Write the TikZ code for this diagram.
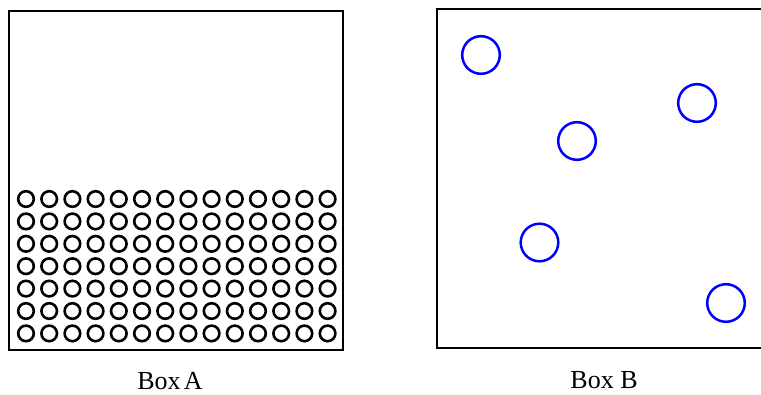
\documentclass[tikz,border=0pt]{standalone}
\usepackage{fontspec}
\setmainfont{Liberation Serif}
\begin{document}
\begin{tikzpicture}[x=1pt,y=-1pt,
  frame/.style={line width=2pt, black},
  ball/.style={line width=2.6pt, black},
  gas/.style={line width=2.5pt, blue},
  caption/.style={font=\fontsize{26}{30}\selectfont, inner sep=0pt}]
\useasboundingbox (0,0) rectangle (761,394);
% Box A: packed particles
\draw[frame] (8.5,11) rectangle (343,350);
\foreach \i in {0,...,13}
  \foreach \j in {0,...,6}
    \draw[ball] (26+23.2*\i, 199+22.4*\j) circle (7.8);
% Box B: scattered particles (right side runs off the page)
\draw[frame] (761,9) -- (437,9) -- (437,347.5) -- (761,347.5);
\foreach \p in {(481,55),(577,141),(697,103),(539.5,242.5),(726,303)}
  \draw[gas] \p circle (18.8);
% captions
\node[caption] (capA) at (170,381) {Box\kern0.12em A};
\node[caption] (capB) at (604,380) {Box B};
\end{tikzpicture}
\end{document}
